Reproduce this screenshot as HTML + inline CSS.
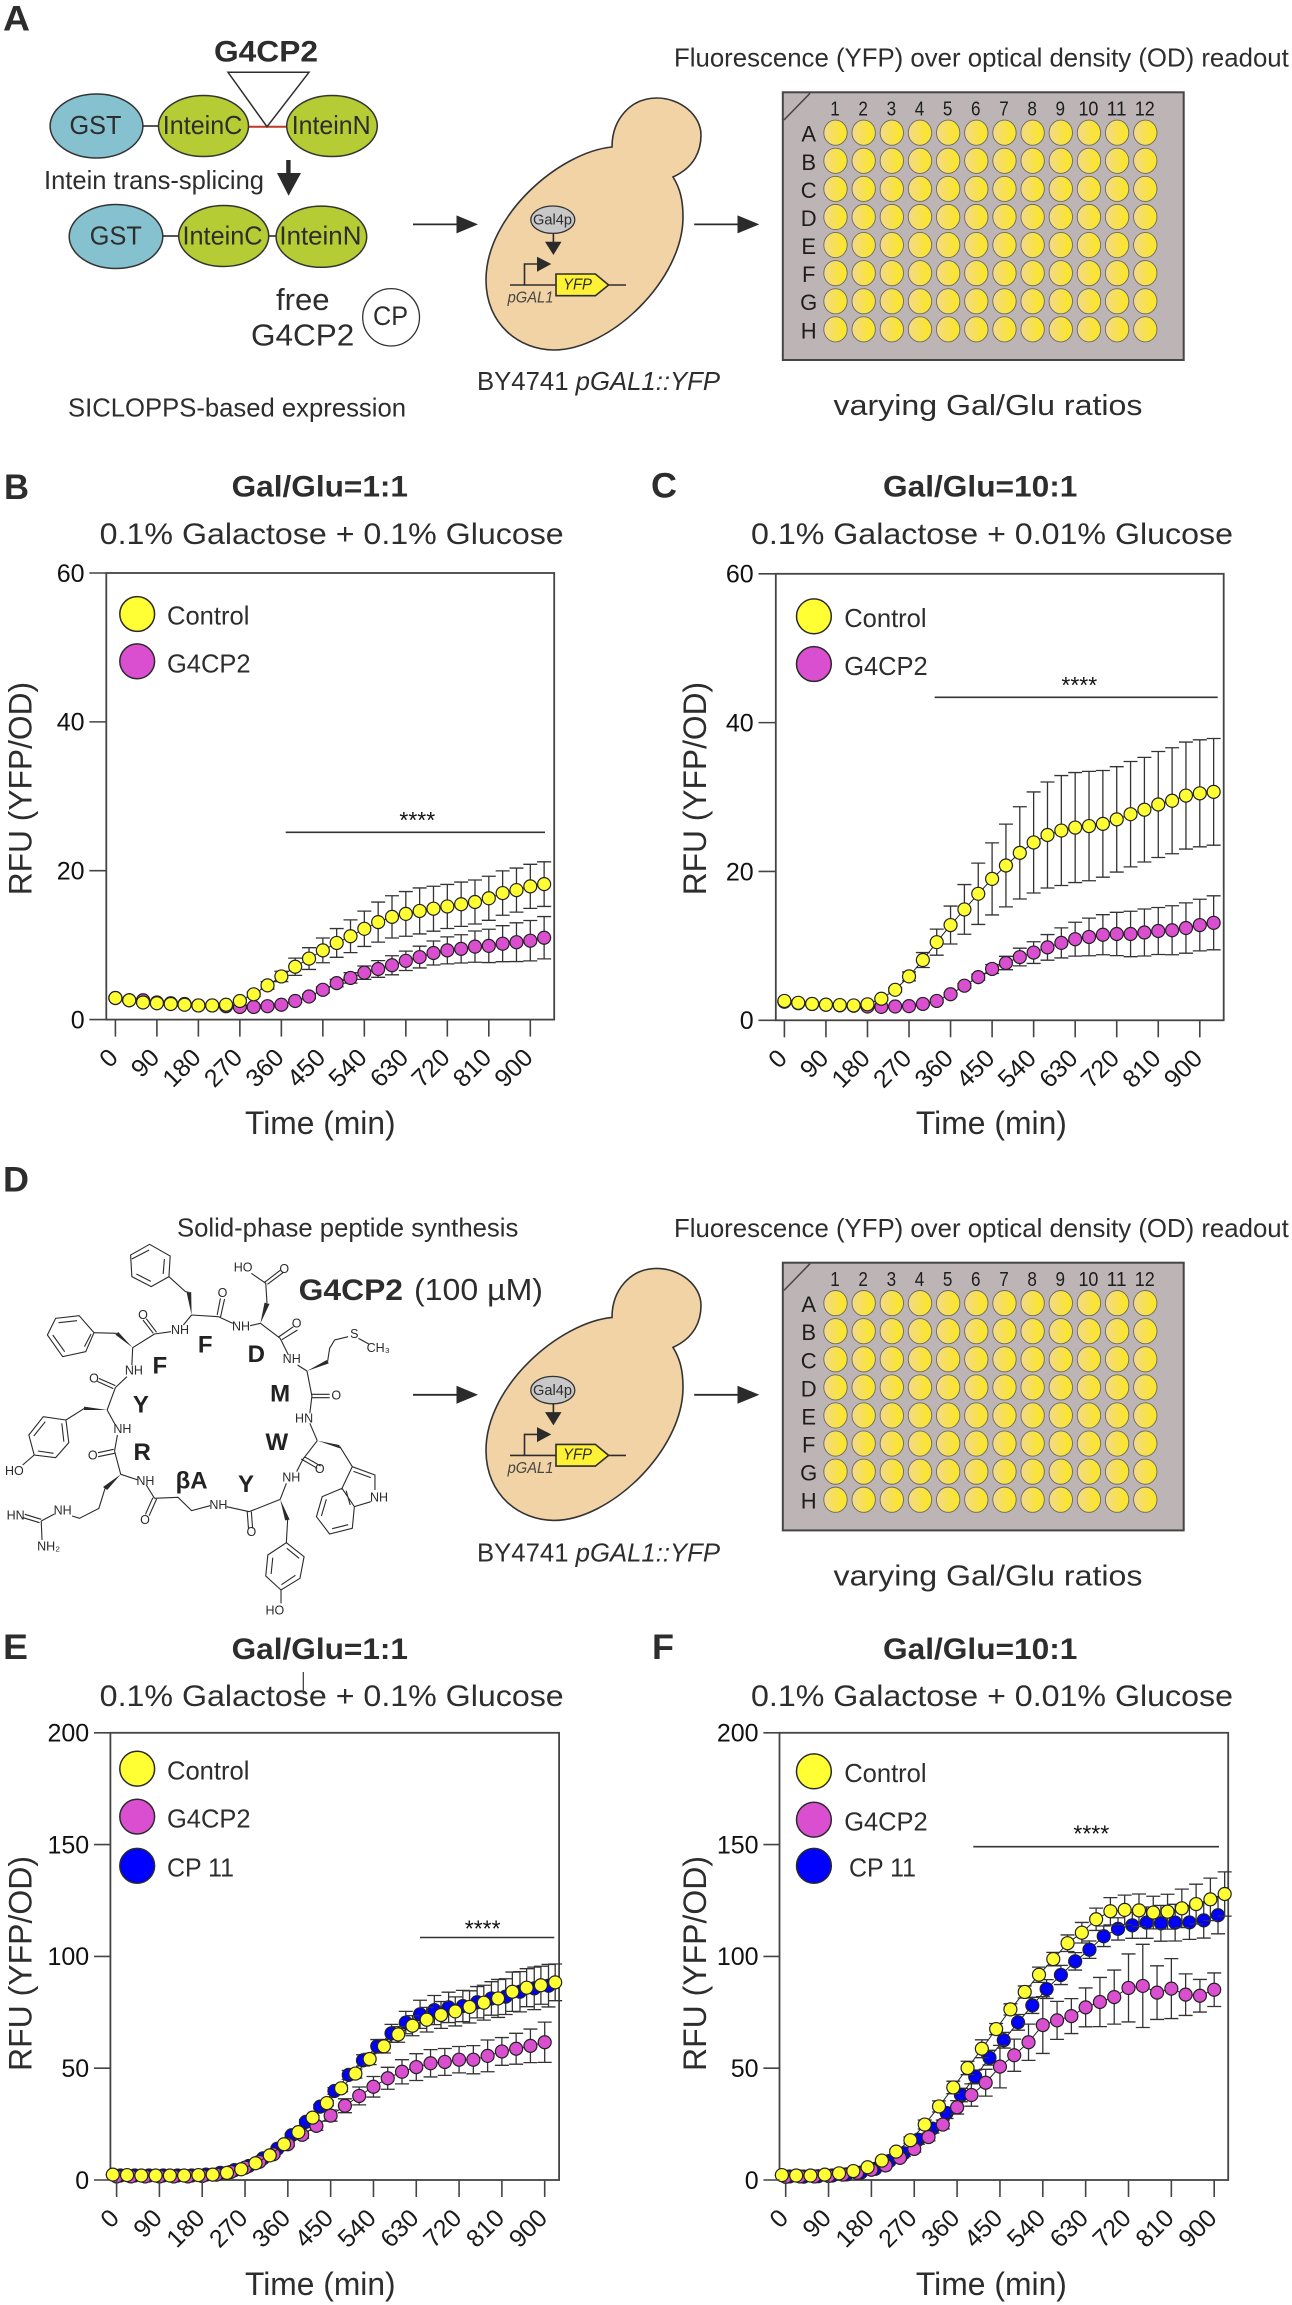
<!DOCTYPE html>
<html lang="en">
<head>
<meta charset="utf-8">
<title>G4CP2 YFP reporter assay figure</title>
<style>
html,body{margin:0;padding:0;background:#fff;width:1292px;height:2305px;overflow:hidden}
svg{display:block;font-family:"Liberation Sans",Arial,sans-serif;fill:#2d2d2d}
.ln{fill:none;stroke:#2e2e2e;stroke-width:1.6}
.ttl{font-size:30px;font-weight:bold}
.sub{font-size:30px}
.lbl{font-size:35px;font-weight:bold}
.axt{font-size:32px}
.leg{font-size:26px}
.t24{font-size:26px}
.star{font-size:23px;fill:#111}
.sig{stroke:#333;stroke-width:1.6;fill:none}
.bd{fill:none;stroke:#2a2a2a;stroke-width:1.1;vector-effect:non-scaling-stroke}
</style>
</head>
<body>
<svg id="figure" xmlns="http://www.w3.org/2000/svg" width="1292" height="2305" viewBox="0 0 1292 2305">
<defs>
<linearGradient id="well-fill" x1="0" x2="1" y1="0" y2="0"><stop offset="0" stop-color="#f3d98c"/><stop offset="0.8" stop-color="#fae52f"/><stop offset="1" stop-color="#f9e43a"/></linearGradient>
</defs>

<!-- PANEL A -->
<text class="lbl" x="3" y="30.7" textLength="27" lengthAdjust="spacingAndGlyphs">A</text>
<text x="214" y="61.7" font-size="30" font-weight="bold" textLength="104" lengthAdjust="spacingAndGlyphs">G4CP2</text>
<line x1="142" y1="126" x2="162" y2="126" stroke="#555" stroke-width="2"/>
<line x1="249" y1="126.7" x2="287" y2="126.7" stroke="#c0392b" stroke-width="2"/>
<polygon points="228,72.3 309,72.3 267,126.7" fill="#fff" stroke="#2e2e2e" stroke-width="1.5"/>
<ellipse cx="96.5" cy="126" rx="46.4" ry="32" fill="#85c1ce" stroke="#333" stroke-width="1.5"/>
<ellipse cx="203.5" cy="126" rx="45" ry="30.5" fill="#b5cc34" stroke="#333" stroke-width="1.5"/>
<ellipse cx="332" cy="126" rx="45.3" ry="30.5" fill="#b5cc34" stroke="#333" stroke-width="1.5"/>
<text class="t24" x="69.5" y="134" textLength="52" lengthAdjust="spacingAndGlyphs">GST</text>
<text class="t24" x="162.8" y="134" textLength="79.5" lengthAdjust="spacingAndGlyphs">InteinC</text>
<text class="t24" x="291.7" y="134" textLength="79" lengthAdjust="spacingAndGlyphs">InteinN</text>
<text class="t24" x="44" y="189" textLength="220" lengthAdjust="spacingAndGlyphs">Intein trans-splicing</text>
<rect x="286.2" y="160" width="4.4" height="15" fill="#2b2b2b"/>
<polygon points="277,173 301,173 288.6,195.7" fill="#2b2b2b"/>
<line x1="162" y1="236" x2="180" y2="236" stroke="#555" stroke-width="2"/>
<line x1="268" y1="236" x2="277" y2="236" stroke="#555" stroke-width="2"/>
<ellipse cx="116" cy="236.5" rx="46.8" ry="32" fill="#85c1ce" stroke="#333" stroke-width="1.5"/>
<ellipse cx="223.7" cy="236" rx="45" ry="30.5" fill="#b5cc34" stroke="#333" stroke-width="1.5"/>
<ellipse cx="321.4" cy="236.7" rx="45.3" ry="30.6" fill="#b5cc34" stroke="#333" stroke-width="1.5"/>
<text class="t24" x="89.8" y="244.5" textLength="52" lengthAdjust="spacingAndGlyphs">GST</text>
<text class="t24" x="182.5" y="244.5" textLength="80" lengthAdjust="spacingAndGlyphs">InteinC</text>
<text class="t24" x="279.4" y="244.5" textLength="82" lengthAdjust="spacingAndGlyphs">InteinN</text>
<text x="276" y="310" font-size="31" textLength="53.6" lengthAdjust="spacingAndGlyphs">free</text>
<text x="251" y="345.7" font-size="31" textLength="103.3" lengthAdjust="spacingAndGlyphs">G4CP2</text>
<ellipse cx="391.1" cy="317.3" rx="28.4" ry="28.7" fill="#fff" stroke="#333" stroke-width="1.3"/>
<text x="373" y="325" font-size="27" textLength="35" lengthAdjust="spacingAndGlyphs">CP</text>
<text class="t24" x="68" y="416.7" textLength="338" lengthAdjust="spacingAndGlyphs">SICLOPPS-based expression</text>

<!-- assay block A -->
<g>
<line x1="413" y1="224.4" x2="458" y2="224.4" stroke="#2b2b2b" stroke-width="1.8"/>
<polygon points="456.5,215.4 478,224.4 456.5,233.4" fill="#2b2b2b"/>
<path d="M612,147 C560,152 486,215 486,280 C486,325 520,350 554,350 C610,350 683,280 683,217 C683,200 680,188 673,177 C695,167 701,150 701,135 C701,115 680,98 657,98 C630,98 612,120 612,147 Z" fill="#f2d3a5" stroke="#333" stroke-width="1.6"/>
<ellipse cx="552.8" cy="219.7" rx="22" ry="13.7" fill="#c8c8c8" stroke="#333" stroke-width="1.3"/>
<text x="533" y="224.5" font-size="15" textLength="39" lengthAdjust="spacingAndGlyphs">Gal4p</text>
<line x1="553.4" y1="233" x2="553.4" y2="244" stroke="#2b2b2b" stroke-width="1.6"/>
<polygon points="545,241.7 561.5,241.7 553.4,255" fill="#2b2b2b"/>
<line x1="510" y1="285" x2="557" y2="285" class="ln"/>
<line x1="608" y1="285" x2="626" y2="285" class="ln"/>
<path d="M524.5,285 V264 H538" class="ln"/>
<polygon points="537,256.7 551.3,264 537,271.7" fill="#2b2b2b"/>
<polygon points="556,274 595.4,274 608.6,285 595.4,295.7 556,295.7" fill="#fff133" stroke="#2e2e2e" stroke-width="1.6"/>
<text x="563" y="289.3" font-size="16" font-style="italic" textLength="29" lengthAdjust="spacingAndGlyphs">YFP</text>
<text x="507.6" y="302.7" font-size="16" font-style="italic" fill="#444" textLength="45.8" lengthAdjust="spacingAndGlyphs">pGAL1</text>
<text class="t24" x="477" y="390" textLength="243" lengthAdjust="spacingAndGlyphs">BY4741 <tspan font-style="italic">pGAL1::YFP</tspan></text>
<line x1="694.2" y1="224.4" x2="739" y2="224.4" stroke="#2b2b2b" stroke-width="1.8"/>
<polygon points="737.5,215.4 759.3,224.4 737.5,233.4" fill="#2b2b2b"/>
<text class="t24" x="674" y="66.7" textLength="614.8" lengthAdjust="spacingAndGlyphs">Fluorescence (YFP) over optical density (OD) readout</text>
<text x="833.5" y="415" font-size="29" textLength="309" lengthAdjust="spacingAndGlyphs">varying Gal/Glu ratios</text>
<g id="plate-top"></g>
</g>

<!-- PANEL B -->
<text class="lbl" x="4" y="499" textLength="25" lengthAdjust="spacingAndGlyphs">B</text>
<text class="ttl" x="231.6" y="496.6" textLength="176.4" lengthAdjust="spacingAndGlyphs">Gal/Glu=1:1</text>
<text class="sub" x="99.7" y="544" textLength="464" lengthAdjust="spacingAndGlyphs">0.1% Galactose + 0.1% Glucose</text>
<g id="chart-b"></g>
<text class="axt" x="245" y="1134" textLength="150.6" lengthAdjust="spacingAndGlyphs">Time (min)</text>
<text class="axt" transform="translate(31.3,895.3) rotate(-90)" textLength="213.4" lengthAdjust="spacingAndGlyphs">RFU (YFP/OD)</text>
<circle cx="137.2" cy="614" r="17.4" fill="#ffff33" stroke="#2a2a2a" stroke-width="1.5"/>
<circle cx="137.2" cy="661.3" r="17.4" fill="#d94fd0" stroke="#2a2a2a" stroke-width="1.5"/>
<text class="leg" x="167" y="624.3" textLength="82.4" lengthAdjust="spacingAndGlyphs">Control</text>
<text class="leg" x="167" y="672.5" textLength="83.5" lengthAdjust="spacingAndGlyphs">G4CP2</text>
<line class="sig" x1="285.7" y1="832.3" x2="545" y2="832.3"/>
<text class="star" x="417.3" y="828" text-anchor="middle">****</text>

<!-- PANEL C -->
<text class="lbl" x="651" y="497.5" textLength="26" lengthAdjust="spacingAndGlyphs">C</text>
<text class="ttl" x="883" y="496.6" textLength="194.4" lengthAdjust="spacingAndGlyphs">Gal/Glu=10:1</text>
<text class="sub" x="751" y="544" textLength="482" lengthAdjust="spacingAndGlyphs">0.1% Galactose + 0.01% Glucose</text>
<g id="chart-c"></g>
<text class="axt" x="915.9" y="1134" textLength="151" lengthAdjust="spacingAndGlyphs">Time (min)</text>
<text class="axt" transform="translate(706.2,895.3) rotate(-90)" textLength="213.4" lengthAdjust="spacingAndGlyphs">RFU (YFP/OD)</text>
<circle cx="813.9" cy="616.3" r="17.4" fill="#ffff33" stroke="#2a2a2a" stroke-width="1.5"/>
<circle cx="813.9" cy="664" r="17.4" fill="#d94fd0" stroke="#2a2a2a" stroke-width="1.5"/>
<text class="leg" x="844.2" y="627" textLength="82.4" lengthAdjust="spacingAndGlyphs">Control</text>
<text class="leg" x="844.2" y="675" textLength="83.5" lengthAdjust="spacingAndGlyphs">G4CP2</text>
<line class="sig" x1="934.7" y1="697.3" x2="1217.7" y2="697.3"/>
<text class="star" x="1079.3" y="693" text-anchor="middle">****</text>

<!-- PANEL D -->
<text class="lbl" x="3" y="1191.7" textLength="26" lengthAdjust="spacingAndGlyphs">D</text>
<text class="t24" x="177" y="1236.7" textLength="341.3" lengthAdjust="spacingAndGlyphs">Solid-phase peptide synthesis</text>
<text x="298.7" y="1300" font-size="30" font-weight="bold" textLength="104.3" lengthAdjust="spacingAndGlyphs">G4CP2</text>
<text x="414" y="1300" font-size="31" textLength="129" lengthAdjust="spacingAndGlyphs">(100 µM)</text>

<g id="structure">
<g transform="translate(0,1160) scale(0.41204,0.33333)">
<path class="bd" d="
M363,253 L413,288 L410,350 L367,380 L320,350 L317,285 Z M362,270 L320,297 M399,297 L396,342 M366,364 L331,342
M410,350 L450,395 L458,397
M465,465 L530,470 M527,465 L535,415 M535,472 L545,417
M465,465 L445,495 M415,515 L375,522 M372,520 L347,480 M380,517 L355,476
M375,522 L322,563 M283,520 L228,518
M228,518 L192,467 L135,475 L115,525 L152,590 L208,575 Z M187,482 L142,488 M128,525 L157,575 M205,560 L221,522
M322,563 L320,615 M308,650 L280,683 M280,677 L240,655 M275,686 L236,664
M280,683 L260,750 M205,745 L160,780
M160,780 L105,770 L70,825 L83,885 L135,893 L167,848 Z M110,785 L82,828 M92,873 L130,880 M155,845 L150,790
M83,885 L55,915
M260,750 L280,795 M285,825 L278,873 M276,868 L238,878 M278,880 L238,890
M278,873 L293,943
M255,985 L240,1045 L193,1075 L175,1068 M132,1062 L100,1083 M100,1078 L60,1063 M96,1088 L56,1073 M100,1083 L102,1140
M293,943 L335,960 M355,975 L375,1015 M371,1013 L353,1063 M380,1017 L362,1067
M375,1015 L432,1012 L465,1052 L510,1037 M550,1040 L605,1055 M600,1055 L603,1105 M610,1055 L613,1105
M605,1055 L680,1018 M698,1080 L695,1148
M695,1148 L738,1190 L728,1255 L682,1290 L645,1248 L650,1185 Z M696,1165 L726,1195 M717,1246 L683,1274 M658,1242 L662,1193
M682,1290 L682,1330
M680,1018 L695,970 M720,935 L735,898 L770,842 M731,897 L770,925 M739,890 L778,918
M825,860 L855,920 L910,945 L910,990 M900,1025 L860,1040 L830,985 L855,920 M858,934 L900,953
M830,985 L782,1010 L768,1070 L800,1122 L855,1105 L860,1040 M792,1018 L780,1068 M806,1106 L845,1094 M840,992 L850,1035
M770,842 L752,790 M752,760 L757,708 M757,703 L800,703 M757,713 L800,713
M757,708 L745,633 M795,605 L800,565 L812,540 L845,530 M870,535 L895,552
M745,633 L722,615 M700,585 L680,535 M676,531 L712,500 M684,539 L722,510
M680,535 L632,490 M648,430 L645,370 L610,340 M641,368 L680,331 M649,373 L688,337
M632,490 L607,497 M565,490 L530,470"/>
<g fill="#2a2a2a">
<polygon points="465,465 453,398 464,396"/>
<polygon points="322,563 280,524 287,516"/>
<polygon points="260,750 204,740 204,750"/>
<polygon points="293,943 250,981 260,990"/>
<polygon points="680,1018 692,1081 703,1079"/>
<polygon points="770,842 823,855 827,866"/>
<polygon points="745,633 793,600 798,610"/>
<polygon points="632,490 642,428 654,432"/>
</g>
</g>
<g id="structure-labels"></g>
</g>

<!-- assay block D -->
<g transform="translate(0,1170.4)">
<line x1="413" y1="224.4" x2="458" y2="224.4" stroke="#2b2b2b" stroke-width="1.8"/>
<polygon points="456.5,215.4 478,224.4 456.5,233.4" fill="#2b2b2b"/>
<path d="M612,147 C560,152 486,215 486,280 C486,325 520,350 554,350 C610,350 683,280 683,217 C683,200 680,188 673,177 C695,167 701,150 701,135 C701,115 680,98 657,98 C630,98 612,120 612,147 Z" fill="#f2d3a5" stroke="#333" stroke-width="1.6"/>
<ellipse cx="552.8" cy="219.7" rx="22" ry="13.7" fill="#c8c8c8" stroke="#333" stroke-width="1.3"/>
<text x="533" y="224.5" font-size="15" textLength="39" lengthAdjust="spacingAndGlyphs">Gal4p</text>
<line x1="553.4" y1="233" x2="553.4" y2="244" stroke="#2b2b2b" stroke-width="1.6"/>
<polygon points="545,241.7 561.5,241.7 553.4,255" fill="#2b2b2b"/>
<line x1="510" y1="285" x2="557" y2="285" class="ln"/>
<line x1="608" y1="285" x2="626" y2="285" class="ln"/>
<path d="M524.5,285 V264 H538" class="ln"/>
<polygon points="537,256.7 551.3,264 537,271.7" fill="#2b2b2b"/>
<polygon points="556,274 595.4,274 608.6,285 595.4,295.7 556,295.7" fill="#fff133" stroke="#2e2e2e" stroke-width="1.6"/>
<text x="563" y="289.3" font-size="16" font-style="italic" textLength="29" lengthAdjust="spacingAndGlyphs">YFP</text>
<text x="507.6" y="302.7" font-size="16" font-style="italic" fill="#444" textLength="45.8" lengthAdjust="spacingAndGlyphs">pGAL1</text>
<text class="t24" x="477" y="391" textLength="243" lengthAdjust="spacingAndGlyphs">BY4741 <tspan font-style="italic">pGAL1::YFP</tspan></text>
<line x1="694.2" y1="224.4" x2="739" y2="224.4" stroke="#2b2b2b" stroke-width="1.8"/>
<polygon points="737.5,215.4 759.3,224.4 737.5,233.4" fill="#2b2b2b"/>
<text class="t24" x="674" y="66.7" textLength="614.8" lengthAdjust="spacingAndGlyphs">Fluorescence (YFP) over optical density (OD) readout</text>
<text x="833.5" y="415" font-size="29" textLength="309" lengthAdjust="spacingAndGlyphs">varying Gal/Glu ratios</text>
<g id="plate-bottom"></g>
</g>

<!-- PANEL E -->
<text class="lbl" x="3" y="1658.8" textLength="25" lengthAdjust="spacingAndGlyphs">E</text>
<text class="ttl" x="231.6" y="1658.8" textLength="176.4" lengthAdjust="spacingAndGlyphs">Gal/Glu=1:1</text>
<text class="sub" x="99.7" y="1706" textLength="464" lengthAdjust="spacingAndGlyphs">0.1% Galactose + 0.1% Glucose</text>
<line x1="303.3" y1="1672" x2="303.3" y2="1694" stroke="#333" stroke-width="1.2"/>
<g id="chart-e"></g>
<text class="axt" x="245" y="2295" textLength="150.6" lengthAdjust="spacingAndGlyphs">Time (min)</text>
<text class="axt" transform="translate(31.3,2071) rotate(-90)" textLength="215" lengthAdjust="spacingAndGlyphs">RFU (YFP/OD)</text>
<circle cx="137.2" cy="1768.7" r="17.4" fill="#ffff33" stroke="#2a2a2a" stroke-width="1.5"/>
<circle cx="137.2" cy="1816.6" r="17.4" fill="#d94fd0" stroke="#2a2a2a" stroke-width="1.5"/>
<circle cx="137.2" cy="1865.8" r="17.4" fill="#0000ff" stroke="#2a2a2a" stroke-width="1.5"/>
<text class="leg" x="167" y="1779.3" textLength="82.4" lengthAdjust="spacingAndGlyphs">Control</text>
<text class="leg" x="167" y="1827.6" textLength="83.5" lengthAdjust="spacingAndGlyphs">G4CP2</text>
<text class="leg" x="167" y="1876.4" textLength="67" lengthAdjust="spacingAndGlyphs">CP 11</text>
<line class="sig" x1="420" y1="1937.5" x2="554.3" y2="1937.5"/>
<text class="star" x="482.7" y="1936.7" text-anchor="middle">****</text>

<!-- PANEL F -->
<text class="lbl" x="652" y="1658.8" textLength="22" lengthAdjust="spacingAndGlyphs">F</text>
<text class="ttl" x="883" y="1658.8" textLength="194.4" lengthAdjust="spacingAndGlyphs">Gal/Glu=10:1</text>
<text class="sub" x="751" y="1706" textLength="482" lengthAdjust="spacingAndGlyphs">0.1% Galactose + 0.01% Glucose</text>
<g id="chart-f"></g>
<text class="axt" x="915.9" y="2295" textLength="151" lengthAdjust="spacingAndGlyphs">Time (min)</text>
<text class="axt" transform="translate(706.2,2071) rotate(-90)" textLength="215" lengthAdjust="spacingAndGlyphs">RFU (YFP/OD)</text>
<circle cx="813.9" cy="1771.3" r="17.4" fill="#ffff33" stroke="#2a2a2a" stroke-width="1.5"/>
<circle cx="813.9" cy="1819.7" r="17.4" fill="#d94fd0" stroke="#2a2a2a" stroke-width="1.5"/>
<circle cx="813.9" cy="1865.8" r="17.4" fill="#0000ff" stroke="#2a2a2a" stroke-width="1.5"/>
<text class="leg" x="844.2" y="1782" textLength="82.4" lengthAdjust="spacingAndGlyphs">Control</text>
<text class="leg" x="844.2" y="1830.3" textLength="83.5" lengthAdjust="spacingAndGlyphs">G4CP2</text>
<text class="leg" x="849" y="1876.4" textLength="67" lengthAdjust="spacingAndGlyphs">CP 11</text>
<line class="sig" x1="973.3" y1="1846.7" x2="1219" y2="1846.7"/>
<text class="star" x="1091.3" y="1841.7" text-anchor="middle">****</text>
</svg>

<script>
/* ---------- category and tick arrays ---------- */
const timeLong = [0,30,60,90,120,150,180,210,240,270,300,330,360,390,420,450,480,510,540,570,600,630,660,690,720,750,780,810,840,870,900,930];
const timeShort = [0,30,60,90,120,150,180,210,240,270,300,330,360,390,420,450,480,510,540,570,600,630,660,690,720,750,780,810,840,870,900];
const xTickValues = [0,90,180,270,360,450,540,630,720,810,900];
const yTicksLow = [0,20,40,60];
const yTicksHigh = [0,50,100,150,200];

/* ---------- panel B values ---------- */
const bControl = [2.9,2.6,2.3,2.2,2.1,2.0,1.9,1.9,2.0,2.5,3.4,4.6,5.8,7.1,8.2,9.3,10.3,11.2,12.2,13.1,13.8,14.2,14.6,14.9,15.2,15.5,15.8,16.3,17,17.4,17.9,18.2];
const bControlErr = [0.2,0.2,0.2,0.2,0.2,0.2,0.2,0.2,0.2,0.2,0.3,0.5,0.7,1.16,1.46,1.66,1.93,2.2,2.37,2.69,2.84,3.0,3.09,3.02,2.96,2.98,2.96,2.96,2.98,2.96,2.96,3.0];
const bG4cp2 = [2.9,2.6,2.6,2.3,2.2,2.1,1.9,1.9,1.8,1.7,1.7,1.8,2.0,2.5,3.1,4.0,4.9,5.6,6.3,6.8,7.3,7.9,8.4,8.95,9.3,9.5,9.8,9.9,10.2,10.4,10.6,11.0];
const bG4cp2Err = [0.2,0.2,0.2,0.2,0.2,0.2,0.2,0.2,0.2,0.2,0.2,0.2,0.2,0.2,0.3,0.4,0.5,0.7,0.9,1.12,1.28,1.3,1.46,1.61,1.81,1.9,2.1,2.24,2.42,2.6,2.71,2.84];

/* ---------- panel C values ---------- */
const cControl = [2.6,2.35,2.2,2.1,2.05,2.0,2.15,2.9,4.1,5.9,8.1,10.5,12.8,14.9,17,19,20.8,22.5,23.9,24.9,25.5,25.9,26.1,26.4,27,27.7,28.3,29,29.5,30.2,30.5,30.7];
const cControlErr = [0.1,0.1,0.1,0.1,0.1,0.1,0.1,0.2,0.3,0.6,1.0,1.75,2.55,3.34,4.12,4.84,5.56,6.2,6.79,7.12,7.39,7.39,7.35,7.17,7.08,7.08,7.03,7.12,7.12,7.19,7.19,7.17];
const cG4cp2 = [2.5,2.3,2.2,2.1,2.0,1.95,1.85,1.8,1.85,1.9,2.2,2.6,3.5,4.65,5.8,6.9,7.7,8.5,9.1,9.8,10.4,10.9,11.2,11.5,11.6,11.6,11.8,12.0,12.1,12.4,12.8,13.1];
const cG4cp2Err = [0.1,0.1,0.1,0.1,0.1,0.1,0.1,0.1,0.1,0.1,0.2,0.2,0.2,0.3,0.4,0.6,0.9,1.19,1.46,1.72,2.02,2.28,2.53,2.69,2.91,3.05,3.16,3.16,3.29,3.38,3.47,3.63];

/* ---------- panel E values ---------- */
const eControl = [2.4,2.2,2,2,2,2,2.2,2.4,3.2,4.8,7.5,11,16,21.4,27.9,34.4,41,47.6,54.1,59.8,65.1,69,71.7,73.8,75.4,77.4,79.3,81.2,84.2,86,87.1,88.4];
const eControlErr = [0.2,0.2,0.2,0.2,0.2,0.2,0.2,0.2,0.2,0.3,0.4,0.5,0.6,0.8,1,1.2,1.5,2,2.5,3,3.5,4.5,5.5,6,6.5,7.2,7.8,8.5,8.8,8.5,8.5,8.2];
const eG4cp2 = [1.6,1.6,1.6,1.6,1.6,1.6,1.8,2.4,3.6,5.5,8.1,11.5,16,20.2,24.2,28.8,33.2,37.6,41.7,45.5,48.4,50.5,52.2,52.8,53.8,53.8,55.5,57.5,58.7,60,61.6];
const eG4cp2Err = [0.2,0.2,0.2,0.2,0.2,0.2,0.2,0.2,0.3,0.4,0.5,0.8,1,1.5,2,2.5,3.1,4,4.6,4.9,5.4,6,6.1,6,5.9,6.3,7.1,6.2,6.9,7.5,9];
const eCp11 = [2,2,2,2,2,2,2.4,3.2,4.4,6.3,9.7,14,20,26,32.8,39.8,47,53.5,59.8,65.6,70.4,74.1,76,77.2,77.8,79.5,81.2,82,84.2,85.7,86.9];
const eCp11Err = [0.3,0.3,0.3,0.3,0.3,0.3,0.3,0.3,0.4,0.5,0.6,0.7,0.8,1,1,1.5,2,2.5,3,4,5,6.3,6.5,6.8,7,7,7.5,8,9,9.5,9.5];

/* ---------- panel F values ---------- */
const fControl = [2.2,2,2,2.4,3,4,5.7,8.7,12.7,17.8,24.8,32.9,41.4,50.1,58.7,67.5,76.3,84.1,91.8,98.8,105.9,110.6,116.6,120.2,120.8,120.6,119.6,120,121.5,123.4,125.5,127.9];
const fControlErr = [0.2,0.2,0.2,0.2,0.3,0.4,0.5,0.7,1,1.5,2,2.5,2.8,3,4,2.5,2.5,2.7,3.4,3,3.7,4.6,5,6.1,6.6,7.3,7.3,7.8,8.6,8.9,9.5,9.9];
const fG4cp2 = [1.4,1.6,1.6,1.8,2.4,3.2,4.6,6.5,9.9,13.9,19.2,24.8,32.5,38,43.5,50.7,55.8,61.6,69.3,71.4,73.3,77.2,79.6,81.8,85.9,86.8,83.8,85.6,82.9,82.4,85.1];
const fG4cp2Err = [0.2,0.2,0.2,0.2,0.3,0.4,0.5,0.7,1,1.4,1.7,2,3,5,6,9.5,7.2,8.1,12.7,8.5,7.8,8.7,11,12.1,15.2,18.6,12,13.4,9.3,7.3,7.5];
const fCp11 = [1.6,1.5,1.7,2,2.5,3.3,5,8.5,12,18,23,30,38,46.2,54.7,62.5,70.5,78.1,85.4,91.7,97.8,103,109,112.3,113.9,115.1,114.8,115.1,115.2,116.1,118.4];
const fCp11Err = [0.3,0.3,0.3,0.3,0.3,0.4,0.5,1,1.5,2,2,2.5,3,3,3.3,3.5,3.5,3.6,4.2,4.3,3.9,3.9,4.6,5,5.8,7,8,8.2,7.6,7.9,8.3];

/* ---------- plate and structure labels ---------- */
const plateRows = ['A','B','C','D','E','F','G','H'];
const plateCols = ['1','2','3','4','5','6','7','8','9','10','11','12'];
const atomLabels = ['NH','O','NH','O','NH','O','HO','NH','HN','NH','NH\u2082','O','NH','O','HO','NH','O','NH','HN','O','S','CH\u2083','NH','O','NH','O','HO','O'];
const atomAnchorsZoomed = [[437,522],[347,477],[325,643],[228,667],[297,819],[225,899],[35,945],[353,975],[38,1079],[152,1064],[118,1171],[352,1092],[530,1047],[610,1128],[667,1364],[707,965],[776,939],[920,1024],[738,787],[816,719],[860,534],[918,576],[708,609],[720,502],[585,512],[540,411],[590,335],[690,339]];
const residueLabels = ['F','F','D','M','Y','W','R','\u03b2A','Y'];
const residueAnchorsZoomed = [[498,578],[388,641],[622,606],[680,724],[342,758],[672,870],[345,900],[465,985],[597,996]];

const NS = 'http://www.w3.org/2000/svg';
function mk(tag, parent, attrs) {
  const el = document.createElementNS(NS, tag);
  for (const k in attrs) el.setAttribute(k, attrs[k]);
  parent.appendChild(el);
  return el;
}

/* ---------- well plate ---------- */
function drawPlate(root) {
  const left = 782.8, top = 92.3, width = 400.9, height = 267.7;
  const firstCol = 835.5, colStep = 28.16, firstRow = 132.7, rowStep = 28.09;
  const body = mk('rect', root, {x:left, y:top, width:width, height:height, fill:'#bdb5b5', stroke:'#454545', 'stroke-width':2});
  
  
  const notch = mk('line', root, {x1:810, y1:93.3, x2:784, y2:120, stroke:'#454545', 'stroke-width':1.5});
  
  
  plateCols.forEach((c, i) => {
    const t = mk('text', root, {x:firstCol + i * colStep - 0.5, y:115.7, 'font-size':20, 'text-anchor':'middle', textLength:c.length > 1 ? 20 : 9.5, lengthAdjust:'spacingAndGlyphs', fill:'#1d1d1d'});
    t.textContent = c;
    
    
  });
  plateRows.forEach((r, j) => {
    const cy = firstRow + j * rowStep;
    const t = mk('text', root, {x:808.7, y:cy + 9, 'font-size':22, 'text-anchor':'middle', fill:'#1d1d1d'});
    t.textContent = r;
    
    
    plateCols.forEach((c, i) => {
      const w = mk('ellipse', root, {cx:firstCol + i * colStep, cy:cy, rx:11.7, ry:12.6, fill:'url(#well-fill)', stroke:'#6a6a60', 'stroke-width':0.9});
      
      
    });
  });
}
drawPlate(document.getElementById('plate-top'));
drawPlate(document.getElementById('plate-bottom'));

/* ---------- structure atom labels ---------- */
(function () {
  const g = document.getElementById('structure-labels');
  atomLabels.forEach((s, i) => {
    const a = atomAnchorsZoomed[i];
    const t = mk('text', g, {x:a[0] / 2.427, y:1160 + a[1] / 3, 'font-size':12.5, 'text-anchor':'middle', fill:'#2a2a2a'});
    t.textContent = s;
    
    
  });
  residueLabels.forEach((s, i) => {
    const a = residueAnchorsZoomed[i];
    const t = mk('text', g, {x:a[0] / 2.427, y:1160 + a[1] / 3, 'font-size':24, 'font-weight':'bold', 'text-anchor':'middle', fill:'#222'});
    t.textContent = s;
    
    
  });
})();

/* ---------- charts ---------- */
function drawChart(cfg) {
  const g = document.getElementById(cfg.id);
  const xScale = t => cfg.tick0 + t * (cfg.tick900 - cfg.tick0) / 900;
  const yScale = v => cfg.bottom - v * (cfg.bottom - cfg.top) / cfg.yMax;

  cfg.series.forEach(s => {
    const px = s.time.map(t => xScale(t + s.shift));
    const py = s.values.map(yScale);
    const line = mk('polyline', g, {points:px.map((x, i) => x + ',' + py[i]).join(' '), fill:'none', stroke:'#222', 'stroke-width':1});
    
    
    s.values.forEach((v, i) => {
      const yHi = yScale(v + s.err[i]), yLo = yScale(v - s.err[i]);
      const x = px[i];
      const bar = mk('path', g, {d:'M' + x + ',' + yHi + 'V' + yLo + 'M' + (x - 7) + ',' + yHi + 'H' + (x + 7) + 'M' + (x - 7) + ',' + yLo + 'H' + (x + 7), fill:'none', stroke:'#333', 'stroke-width':1.3});
      
      
    });
    s.values.forEach((v, i) => {
      const pt = mk('circle', g, {cx:px[i], cy:py[i], r:6.5, fill:s.color, stroke:'#222', 'stroke-width':1.2});
      
      
    });
  });

  const frame = mk('rect', g, {x:cfg.left, y:cfg.top, width:cfg.right - cfg.left, height:cfg.bottom - cfg.top, fill:'none', stroke:'#444', 'stroke-width':1.8});
  
  
  g.insertBefore(frame, g.firstChild);

  cfg.yTicks.forEach(v => {
    const y = yScale(v);
    const tk = mk('line', g, {x1:cfg.tickLeft, x2:cfg.left, y1:y, y2:y, stroke:'#444', 'stroke-width':1.6});
    
    
    const lb = mk('text', g, {x:cfg.tickLeft - 4.8, y:y + 8.8, 'font-size':25, 'text-anchor':'end', fill:'#111'});
    lb.textContent = v;
    
    
  });
  xTickValues.forEach(v => {
    const x = xScale(v);
    const tk = mk('line', g, {x1:x, x2:x, y1:cfg.bottom, y2:cfg.bottom + 17, stroke:'#444', 'stroke-width':1.6});
    
    
    const lb = mk('text', g, {'font-size':25, 'text-anchor':'end', fill:'#1a1a1a', transform:'translate(' + (x + 4) + ',' + (cfg.bottom + 39.5) + ') rotate(-45)'});
    lb.textContent = v;
    
    
  });
}

const YELLOW = '#ffff33', PURPLE = '#d94fd0', BLUE = '#0000ff';

drawChart({id:'chart-b', left:106.3, right:554.2, top:573, bottom:1019.6, tick0:115.4, tick900:530.3, tickLeft:89.4, yMax:60, yTicks:yTicksLow,
  series:[
    {name:'g4cp2', color:PURPLE, shift:0, time:timeLong, values:bG4cp2, err:bG4cp2Err},
    {name:'control', color:YELLOW, shift:0, time:timeLong, values:bControl, err:bControlErr}
  ]});
drawChart({id:'chart-c', left:775.8, right:1223.7, top:573.8, bottom:1020.3, tick0:784.4, tick900:1199.8, tickLeft:758.5, yMax:60, yTicks:yTicksLow,
  series:[
    {name:'g4cp2', color:PURPLE, shift:0, time:timeLong, values:cG4cp2, err:cG4cp2Err},
    {name:'control', color:YELLOW, shift:0, time:timeLong, values:cControl, err:cControlErr}
  ]});
drawChart({id:'chart-e', left:110.4, right:559.1, top:1732.8, bottom:2180, tick0:116.6, tick900:544.7, tickLeft:94, yMax:200, yTicks:yTicksHigh,
  series:[
    {name:'cp11', color:BLUE, shift:8, time:timeShort, values:eCp11, err:eCp11Err},
    {name:'g4cp2', color:PURPLE, shift:0, time:timeShort, values:eG4cp2, err:eG4cp2Err},
    {name:'control', color:YELLOW, shift:-8, time:timeLong, values:eControl, err:eControlErr}
  ]});
drawChart({id:'chart-f', left:779.5, right:1228.2, top:1732.8, bottom:2180, tick0:785.7, tick900:1214.2, tickLeft:763.4, yMax:200, yTicks:yTicksHigh,
  series:[
    {name:'cp11', color:BLUE, shift:8, time:timeShort, values:fCp11, err:fCp11Err},
    {name:'g4cp2', color:PURPLE, shift:0, time:timeShort, values:fG4cp2, err:fG4cp2Err},
    {name:'control', color:YELLOW, shift:-8, time:timeLong, values:fControl, err:fControlErr}
  ]});
</script>
</body>
</html>
